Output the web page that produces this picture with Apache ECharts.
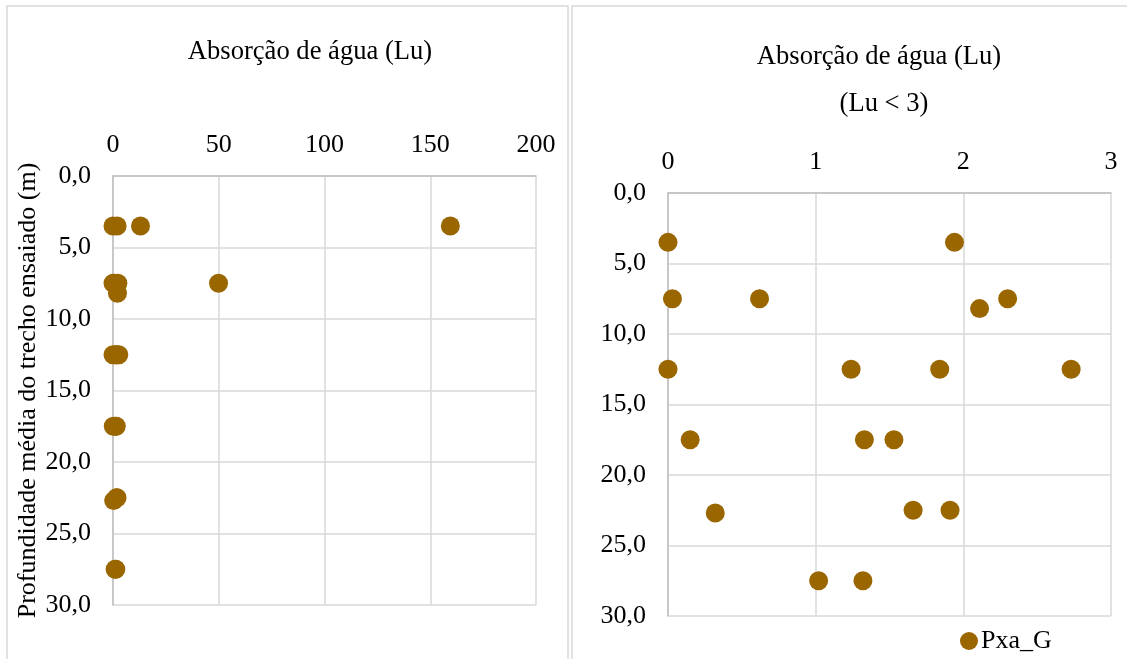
<!DOCTYPE html>
<html>
<head>
<meta charset="utf-8">
<script src="https://cdn.jsdelivr.net/npm/echarts@6/dist/echarts.min.js"></script>
<style>
html,body{margin:0;padding:0;background:#fff;}
#c{width:1127px;height:659px;}
</style>
</head>
<body>
<div id="c"></div>
<script>
// Data: water absorption (Lugeon) vs mean depth of tested stretch (m)
const seriesName = 'Pxa_G';
const luValues = [0.00, 1.94, 13.0, 159.5, 0.03, 0.62, 2.11, 2.30, 49.9, 0.00, 1.24, 1.84, 2.73, 0.15, 1.33, 1.53, 0.32, 1.66, 1.91, 1.02, 1.32];
const depthValues = [3.5, 3.5, 3.5, 3.5, 7.5, 7.5, 8.2, 7.5, 7.5, 12.5, 12.5, 12.5, 12.5, 17.5, 17.5, 17.5, 22.7, 22.5, 22.5, 27.5, 27.5];
const leftXTicks = [0, 50, 100, 150, 200];
const rightXTicks = [0, 1, 2, 3];
const depthTicks = [0, 5, 10, 15, 20, 25, 30];
const titleLeft = 'Absorção de água (Lu)';
const titleRight1 = 'Absorção de água (Lu)';
const titleRight2 = '(Lu < 3)';
const yAxisName = 'Profundidade média do trecho ensaiado (m)';
const luLimit = 3;

const allPts = luValues.map((v, i) => [v, depthValues[i]]);
const lowPts = allPts.filter(p => p[0] < luLimit);

const FONT = '"Liberation Serif", "Times New Roman", serif';
const FS = 26;
const TFS = 26.6;
const dotColor = '#996600';
const gridColor = '#d9d9d9';
const axisColor = '#bfbfbf';

function xAxis(gridIndex, ticks) {
  return {
    type: 'value', gridIndex, position: 'top',
    min: ticks[0], max: ticks[ticks.length - 1], interval: ticks[1] - ticks[0],
    axisLine: {show: true, onZero: false, lineStyle: {color: axisColor, width: 1.5}},
    axisTick: {show: false},
    axisLabel: {fontFamily: FONT, fontSize: FS, color: '#000', margin: 18},
    splitLine: {show: true, lineStyle: {color: gridColor, width: 1.5}}
  };
}
function yAxis(gridIndex, extra) {
  return Object.assign({
    type: 'value', gridIndex, inverse: true,
    min: depthTicks[0], max: depthTicks[depthTicks.length - 1], interval: depthTicks[1] - depthTicks[0],
    axisLine: {show: true, onZero: false, lineStyle: {color: axisColor, width: 1.5}},
    axisTick: {show: false},
    axisLabel: {fontFamily: FONT, fontSize: FS, color: '#000', margin: 22,
      formatter: v => v.toFixed(1).replace('.', ',')},
    splitLine: {show: true, lineStyle: {color: gridColor, width: 1.5}}
  }, extra || {});
}

const tStyle = {fontFamily: FONT, fontSize: TFS, fontWeight: 'normal', color: '#000'};
const chart = echarts.init(document.getElementById('c'), null, {renderer: 'canvas'});
chart.setOption({
  animation: false,
  backgroundColor: '#fff',
  title: [
    {text: titleLeft, left: 305, top: 47, textAlign: 'center', textVerticalAlign: 'middle', textStyle: tStyle},
    {text: titleRight1, left: 874, top: 52, textAlign: 'center', textVerticalAlign: 'middle', textStyle: tStyle},
    {text: titleRight2, left: 879, top: 99, textAlign: 'center', textVerticalAlign: 'middle', textStyle: tStyle}
  ],
  legend: {
    show: true, data: [{name: seriesName, icon: 'circle'}], left: 955, top: 623,
    itemWidth: 18, itemHeight: 18, itemGap: 4,
    textStyle: {fontFamily: FONT, fontSize: FS, color: '#000', padding: [0, 0, 0, -2]}
  },
  grid: [
    {left: 113, top: 176, width: 423, height: 429},
    {left: 668, top: 193, width: 443, height: 423}
  ],
  xAxis: [xAxis(0, leftXTicks), xAxis(1, rightXTicks)],
  yAxis: [
    yAxis(0, {name: yAxisName, nameLocation: 'middle', nameGap: 69, nameRotate: 90,
      nameTextStyle: {fontFamily: FONT, fontSize: FS, color: '#000'}}),
    yAxis(1)
  ],
  series: [
    {name: seriesName + ' ', type: 'scatter', xAxisIndex: 0, yAxisIndex: 0, data: allPts,
     symbol: 'circle', symbolSize: 19, itemStyle: {color: dotColor, opacity: 1}},
    {name: seriesName, type: 'scatter', xAxisIndex: 1, yAxisIndex: 1, data: lowPts,
     symbol: 'circle', symbolSize: 19, itemStyle: {color: dotColor, opacity: 1}}
  ],
  graphic: [
    {type: 'rect', shape: {x: 7, y: 6, width: 561, height: 700}, silent: true,
     style: {fill: 'none', stroke: gridColor, lineWidth: 1.5}, z: -1},
    {type: 'rect', shape: {x: 572, y: 6, width: 600, height: 700}, silent: true,
     style: {fill: 'none', stroke: gridColor, lineWidth: 1.5}, z: -1}
  ]
});
</script>
</body>
</html>
